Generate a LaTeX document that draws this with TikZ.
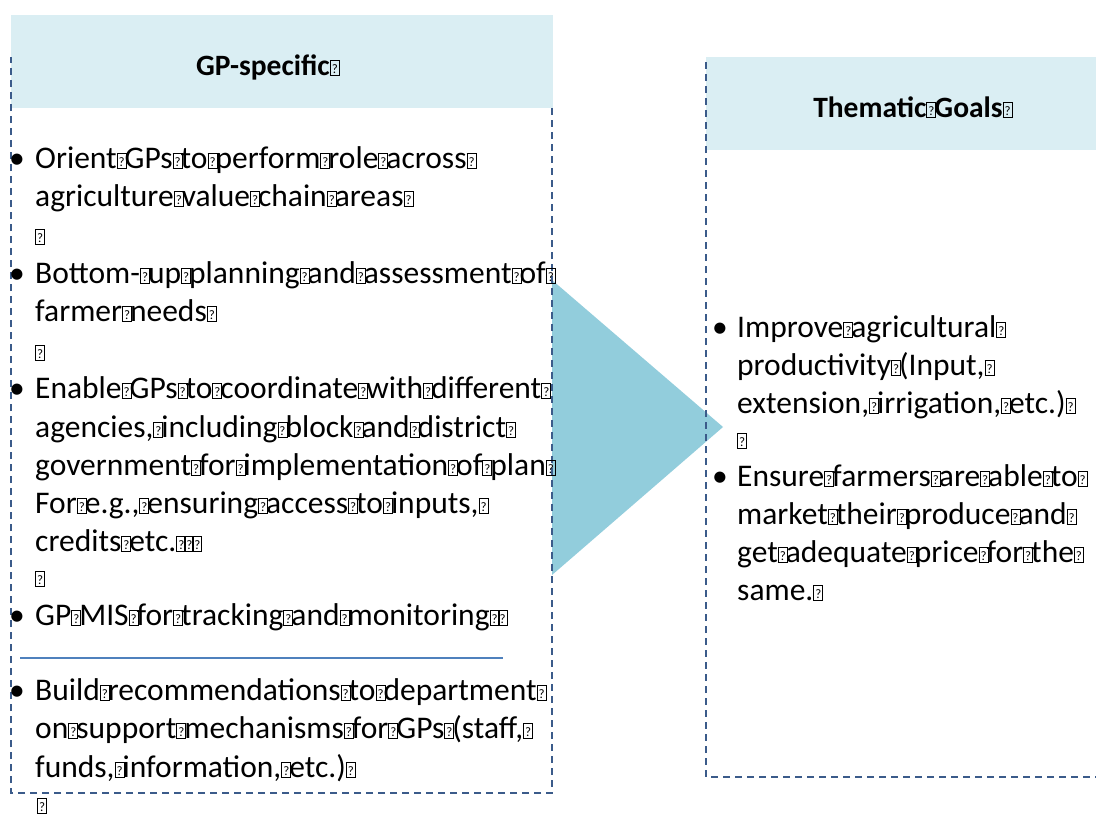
\documentclass[tikz,border=0pt]{standalone}
\usepackage{fontspec}
\setmainfont{Carlito}
\definecolor{headfill}{HTML}{DAEEF3}
\definecolor{arrowfill}{HTML}{92CDDC}
\definecolor{framecol}{HTML}{3B5B8A}
\definecolor{rulecol}{HTML}{4F81BD}
% boxed question mark used in place of each space
\newcommand{\qm}{{\setlength{\fboxsep}{0pt}\setlength{\fboxrule}{1pt}\makebox[8pt][l]{\fbox{\makebox[8pt]{\rule{0pt}{14pt}\raisebox{2pt}{\fontsize{13}{13}\selectfont\mdseries ?}}}}}}
\begin{document}
\begin{tikzpicture}[x=1pt,y=-1pt,
  txt/.style={font=\fontsize{31.5}{38}\selectfont, inner sep=0pt, anchor=base west},
  head/.style={font=\fontsize{29.5}{34}\selectfont\bfseries, inner sep=0pt, anchor=base},
  frame/.style={draw=framecol, line width=1.4pt, dash pattern=on 7pt off 5pt},
  bul/.style={font=\fontsize{31.5}{38}\selectfont, inner sep=0pt, anchor=base}]
\useasboundingbox (0,0) rectangle (1096,814);
\fill[white] (0,0) rectangle (1096,814);

% chevron between the two panels
\fill[arrowfill] (552,280) -- (723,427) -- (552,575) -- cycle;

% left panel
\fill[headfill] (11,15) rectangle (553,108);
\draw[frame] (552,108) -- (552,793) -- (11,793) -- (11,57);
\node[head] (lhead) at (267,75) {GP-specific\qm};

% right panel
\fill[headfill] (706,57) rectangle (1096,150);
\draw[frame] (706,62) -- (706,777) -- (1096,777);
\node[head] (rhead) at (912,117) {Thematic\qm Goals\qm};

% left panel items
\node[bul] (b1) at (17,168) {•};
\node[txt] (l1) at (35,168) {Orient\qm GPs\qm to\qm perform\qm role\qm across\qm};
\node[txt] (l2) at (35,206) {agriculture\qm value\qm chain\qm areas\qm};
\node[txt] (l3) at (35,244) {\qm};
\node[bul] (b2) at (17,283) {•};
\node[txt] (l4) at (35,283) {Bottom-\qm up\qm planning\qm and\qm assessment\qm of\qm};
\node[txt] (l5) at (35,321) {farmer\qm needs\qm};
\node[txt] (l6) at (35,360) {\qm};
\node[bul] (b3) at (17,398) {•};
\node[txt] (l7) at (35,398) {Enable\qm GPs\qm to\qm coordinate\qm with\qm different\qm};
\node[txt] (l8) at (35,437) {agencies,\qm including\qm block\qm and\qm district\qm};
\node[txt] (l9) at (35,475) {government\qm for\qm implementation\qm of\qm plan\qm};
\node[txt] (l10) at (35,513) {For\qm e.g.,\qm ensuring\qm access\qm to\qm inputs,\qm};
\node[txt] (l11) at (35,551) {credits\qm etc.\qm\qm\qm};
\node[txt] (l12) at (35,586) {\qm};
\node[bul] (b4) at (17,625) {•};
\node[txt] (l13) at (35,625) {GP\qm MIS\qm for\qm tracking\qm and\qm monitoring\qm\qm};

\draw[rulecol, line width=2.8pt] (20,658) -- (503,658);

\node[bul] (b5) at (17,700) {•};
\node[txt] (l14) at (35,700) {Build\qm recommendations\qm to\qm department\qm};
\node[txt] (l15) at (35,738) {on\qm support\qm mechanisms\qm for\qm GPs\qm(staff,\qm};
\node[txt] (l16) at (35,777) {funds,\qm information,\qm etc.)\qm};
\node[txt] (l17) at (37,813) {\qm};

% right panel items
\node[bul] (c1) at (720,337) {•};
\node[txt] (r1) at (737,337) {Improve\qm agricultural\qm};
\node[txt] (r2) at (737,375) {productivity\qm(Input,\qm};
\node[txt] (r3) at (737,413) {extension,\qm irrigation,\qm etc.)\qm};
\node[txt] (r4) at (737,448) {\qm};
\node[bul] (c2) at (720,486) {•};
\node[txt] (r5) at (737,486) {Ensure\qm farmers\qm are\qm able\qm to\qm};
\node[txt] (r6) at (737,524) {market\qm their\qm produce\qm and\qm};
\node[txt] (r7) at (737,562) {get\qm adequate\qm price\qm for\qm the\qm};
\node[txt] (r8) at (737,600) {same.\qm};
\end{tikzpicture}
\end{document}
